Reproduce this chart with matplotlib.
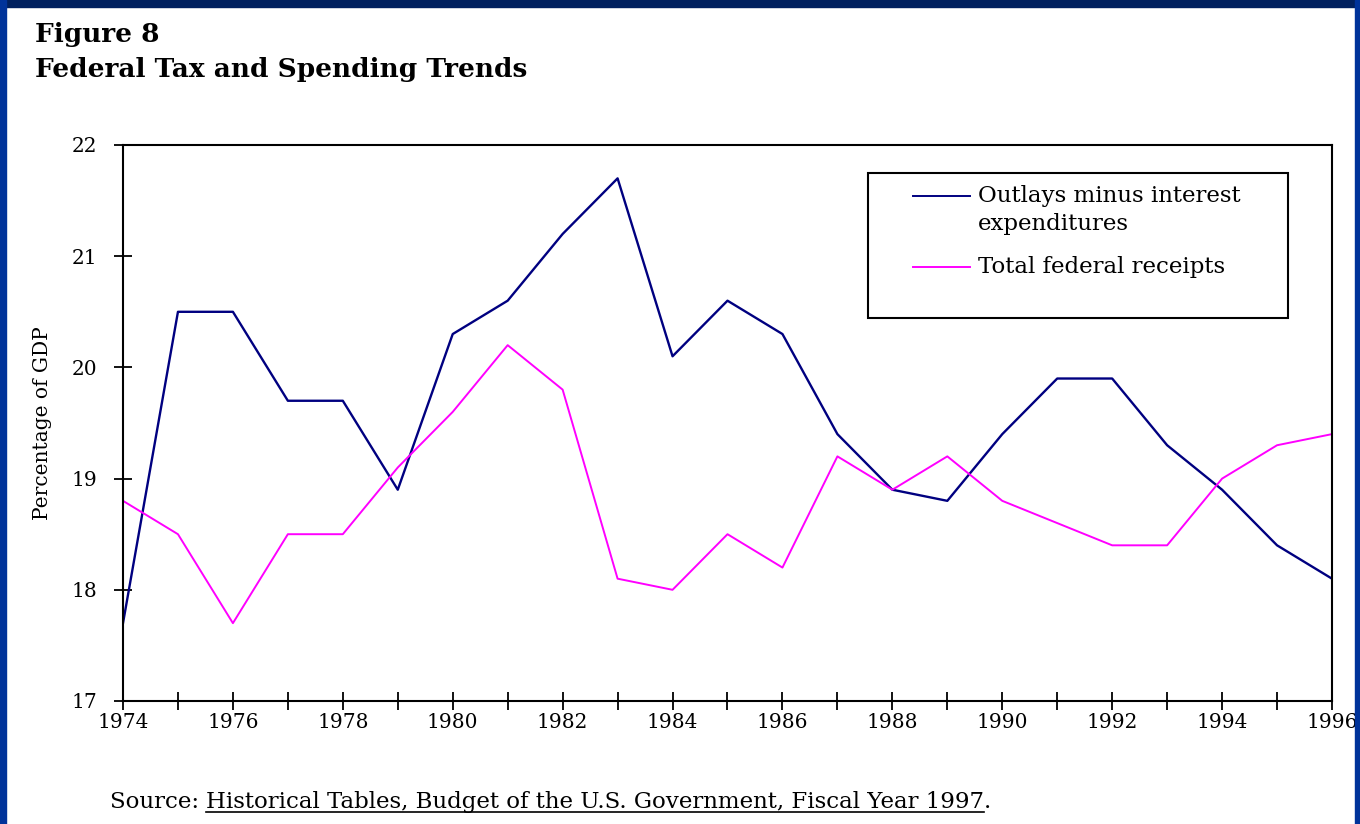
import matplotlib.pyplot as plt
from matplotlib.patches import Rectangle
from matplotlib.lines import Line2D

years = list(range(1974, 1997))
outlays = [17.7, 20.5, 20.5, 19.7, 19.7, 18.9, 20.3, 20.6, 21.2, 21.7, 20.1, 20.6,
           20.3, 19.4, 18.9, 18.8, 19.4, 19.9, 19.9, 19.3, 18.9, 18.4, 18.1]
receipts = [18.8, 18.5, 17.7, 18.5, 18.5, 19.1, 19.6, 20.2, 19.8, 18.1, 18.0, 18.5,
            18.2, 19.2, 18.9, 19.2, 18.8, 18.6, 18.4, 18.4, 19.0, 19.3, 19.4]
xtick_labels = [str(y) for y in range(1974, 1997, 2)]
series_names = ['Outlays minus interest\nexpenditures', 'Total federal receipts']
colors = ['#000080', '#FF00FF']

plt.rcParams['font.family'] = ['DejaVu Serif']

fig = plt.figure(figsize=(13.6, 8.24), dpi=100)
ax = fig.add_axes([123/1360, 1 - 701/824, (1332 - 123)/1360, (701 - 145)/824])

ax.plot(years, outlays, color=colors[0], lw=1.7)
ax.plot(years, receipts, color=colors[1], lw=1.4)

ax.set_xlim(1974, 1996)
ax.set_ylim(17, 22)
ax.set_xticks(years, minor=True)
ax.set_xticks(range(1974, 1997, 2))
ax.set_xticklabels(xtick_labels)
ax.set_yticks(range(17, 23))
ax.tick_params(which='both', direction='inout', length=13, width=1.3, color='black',
               labelsize=14.5)
ax.tick_params(axis='x', pad=2)
ax.tick_params(axis='y', pad=12)
for s in ax.spines.values():
    s.set_linewidth(1.5)
ax.set_ylabel('Percentage of GDP', fontsize=14.5, labelpad=14)

# legend drawn by hand so the key line sits on the first text line
ax.add_patch(Rectangle((0.6162, 0.6888), 0.3474, 0.2608, transform=ax.transAxes,
                       fill=False, edgecolor='black', lw=1.5, zorder=5))
key_y = [0.9083, 0.7806]
for c, ky in zip(colors, key_y):
    ax.add_line(Line2D([0.6534, 0.7006], [ky, ky], transform=ax.transAxes,
                       color=c, lw=1.4, zorder=6))
first, second = series_names[0].split('\n')
ax.text(0.7072, key_y[0], first, transform=ax.transAxes, fontsize=16.5,
        va='center', ha='left', zorder=6)
ax.text(0.7072, 0.8579, second, transform=ax.transAxes, fontsize=16.5,
        va='center', ha='left', zorder=6)
ax.text(0.7072, key_y[1], series_names[1], transform=ax.transAxes, fontsize=16.5,
        va='center', ha='left', zorder=6)

fig.text(35/1360, 1 - 42/824, 'Figure 8', fontsize=19, fontweight='bold', va='baseline')
fig.text(35/1360, 1 - 77/824, 'Federal Tax and Spending Trends', fontsize=19,
         fontweight='bold', va='baseline')

# source line with underlined title
src1 = fig.text(110/1360, 1 - 808/824, 'Source: ', fontsize=16.5, va='baseline')
fig.canvas.draw()
r = fig.canvas.get_renderer()
bb = src1.get_window_extent(r)
x2 = bb.x1 / fig.bbox.width
src2 = fig.text(x2, 1 - 808/824,
                'Historical Tables, Budget of the U.S. Government, Fiscal Year 1997',
                fontsize=16.5, va='baseline')
fig.canvas.draw()
bb2 = src2.get_window_extent(r)
x3 = bb2.x1 / fig.bbox.width
fig.text(x3, 1 - 808/824, '.', fontsize=16.5, va='baseline')
fig.add_artist(Line2D([x2, x3], [1 - 812/824, 1 - 812/824], color='black', lw=1.2))

# blue slide border
fig.add_artist(Rectangle((0, 1 - 7/824), 1, 7/824, transform=fig.transFigure,
                         color='#00205E', zorder=10))
fig.add_artist(Rectangle((0, 0), 6/1360, 1, transform=fig.transFigure,
                         color='#00339A', zorder=10))
fig.add_artist(Rectangle((1 - 5/1360, 0), 5/1360, 1, transform=fig.transFigure,
                         color='#00339A', zorder=10))

fig.savefig('out.png', dpi=100)
